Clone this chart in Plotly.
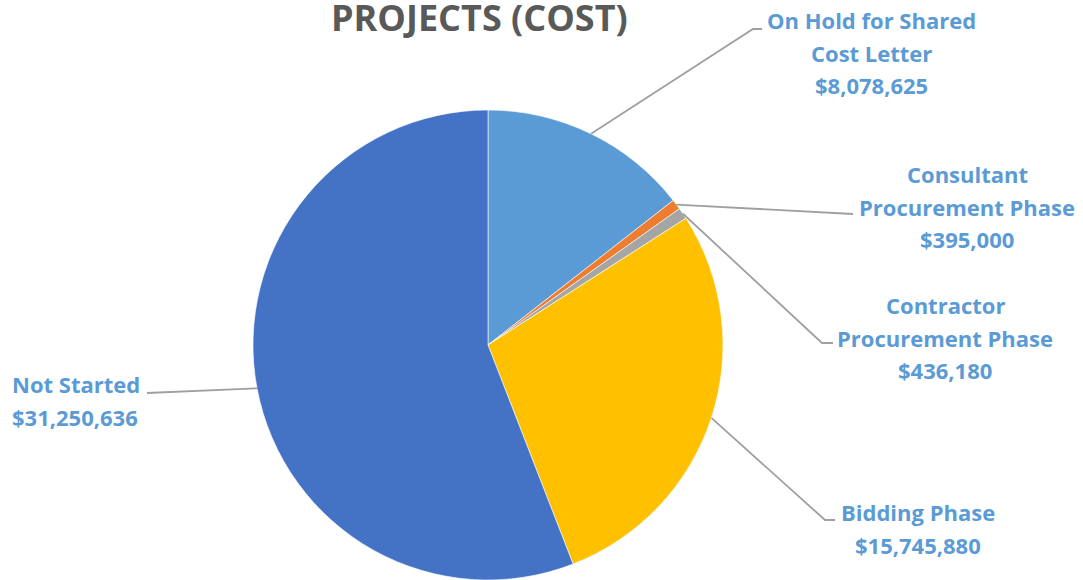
import math
import plotly.graph_objects as go

# ---- data ----
categories = ["On Hold for Shared Cost Letter", "Consultant Procurement Phase",
              "Contractor Procurement Phase", "Bidding Phase", "Not Started"]
values = [8078625, 395000, 436180, 15745880, 31250636]
colors = ["#5B9BD5", "#ED7D31", "#A5A5A5", "#FFC000", "#4472C4"]
label_lines = [
    ["On Hold for Shared", "Cost Letter"],
    ["Consultant", "Procurement Phase"],
    ["Contractor", "Procurement Phase"],
    ["Bidding Phase"],
    ["Not Started"],
]
title_text = "PROJECTS (COST)"

# ---- layout geometry (pixels) ----
W, H = 1083, 580
CX, CY, R = 488, 345, 235
LABEL_COLOR = "#5B9BD5"
FONT = "Open Sans"
FS = 22
LINE_H = 32.5

# label placement: (x, y of first line, anchor) and leader elbow points
label_pos = [
    (871, 20, "center"),
    (967, 174, "center"),
    (945, 305, "center"),
    (918, 512, "center"),
    (10, 384, "left"),
]
elbows = [
    [(753, 29), (762, 29)],
    [(853, 214)],
    [(822, 343), (833, 343)],
    [(825, 520), (835, 520)],
    [(147, 393)],
]

def px(x):
    return x / W

def py(y):
    return 1 - y / H

fig = go.Figure()
fig.add_trace(go.Pie(
    labels=categories, values=values, sort=False, direction="clockwise",
    rotation=0, textinfo="none", hoverinfo="label+value",
    marker=dict(colors=colors, line=dict(color="white", width=0.6)),
    domain=dict(x=[(CX - R) / W, (CX + R) / W], y=[1 - (CY + R) / H, 1 - (CY - R) / H]),
    showlegend=False,
))

total = sum(values)
annotations = []
shapes = []
cum = 0.0
for i, v in enumerate(values):
    mid = (cum + v / 2) / total * 2 * math.pi
    cum += v
    sx = CX + R * math.sin(mid)
    sy = CY - R * math.cos(mid)
    pts = [(sx, sy)] + elbows[i]
    path = "M " + " L ".join(f"{px(x)} {py(y)}" for x, y in pts)
    shapes.append(dict(type="path", xref="paper", yref="paper", path=path,
                       line=dict(color="#A0A0A0", width=1.8)))
    lx, ly, anc = label_pos[i]
    lines = label_lines[i] + [f"${v:,.0f}"]
    for k, t in enumerate(lines):
        annotations.append(dict(
            x=px(lx), y=py(ly + k * LINE_H), xref="paper", yref="paper",
            text=f"<b>{t}</b>", showarrow=False, xanchor=anc, yanchor="middle",
            font=dict(family=FONT, size=FS, color=LABEL_COLOR)))

annotations.append(dict(
    x=px(479), y=1, xref="paper", yref="paper", yanchor="top", yshift=9,
    text=f"<b>{title_text}</b>", showarrow=False, xanchor="center",
    font=dict(family=FONT, size=36, color="#595959")))

fig.update_layout(
    width=W, height=H, margin=dict(l=0, r=0, t=0, b=0),
    paper_bgcolor="white", plot_bgcolor="white",
    annotations=annotations, shapes=shapes,
)
fig.write_html("out.html", config={"displayModeBar": False},
               post_script="document.body.style.margin='0';document.body.style.padding='0';")
